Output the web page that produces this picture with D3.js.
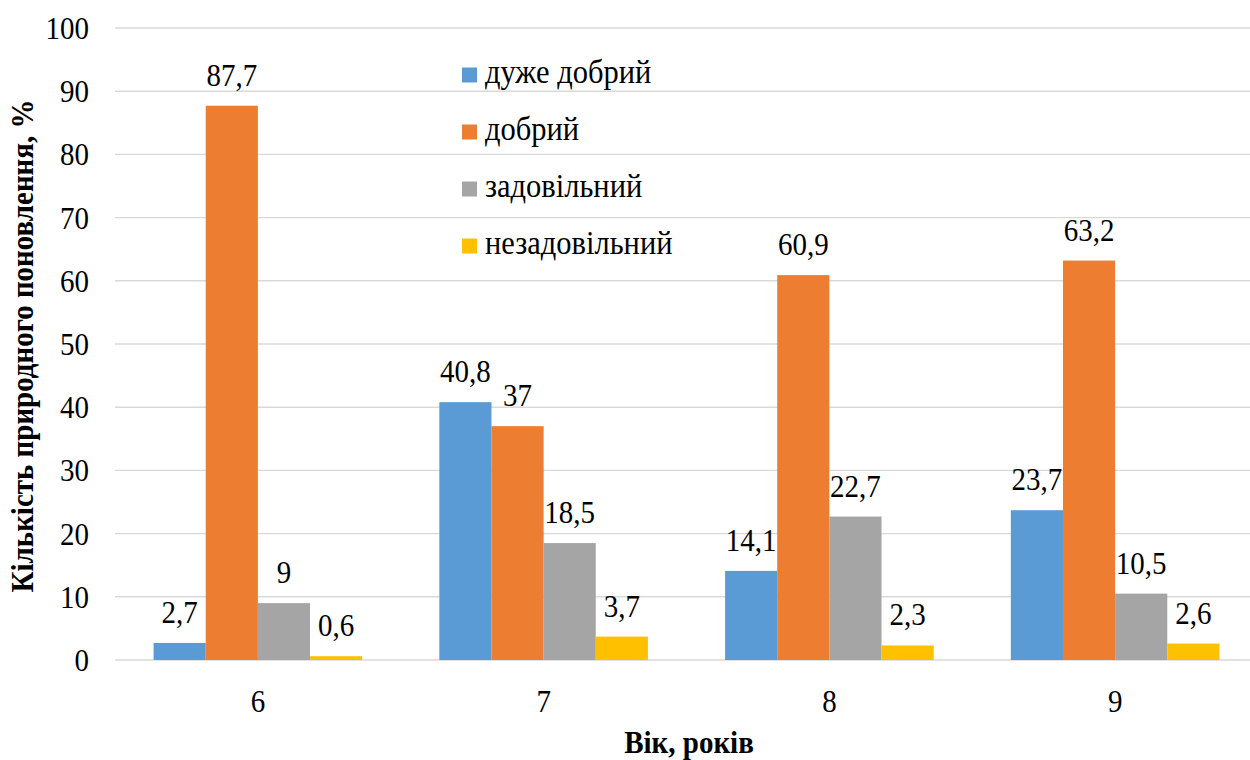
<!DOCTYPE html>
<html>
<head>
<meta charset="utf-8">
<script src="https://cdn.jsdelivr.net/npm/d3@7"></script>
</head>
<body style="margin:0">
<svg id="chart" width="1250" height="760" style="display:block"></svg>
<script>
// Age groups (years)
const categories = ["6", "7", "8", "9"];
// Condition classes of natural regeneration
const seriesNames = ["дуже добрий", "добрий", "задовільний", "незадовільний"];
const seriesColors = ["#5B9BD5", "#ED7D31", "#A5A5A5", "#FFC000"];
// Share of natural regeneration, %, per condition class for ages 6..9
const veryGood = [2.7, 40.8, 14.1, 23.7];
const good = [87.7, 37, 60.9, 63.2];
const satisfactory = [9, 18.5, 22.7, 10.5];
const unsatisfactory = [0.6, 3.7, 2.3, 2.6];
const yTicks = [0, 10, 20, 30, 40, 50, 60, 70, 80, 90, 100];

const seriesValues = [veryGood, good, satisfactory, unsatisfactory];

const FONT = '"Liberation Serif"';
const STRETCH = 1.12; // glyphs are drawn slightly taller than wide

const svg = d3.select("#chart")
  .attr("font-family", "Liberation Serif")
  .style("font-family", FONT, "important");

const plotLeft = 115, plotRight = 1258, plotTop = 28, plotBottom = 660;

const x0 = d3.scaleBand()
  .domain(categories)
  .range([plotLeft, plotRight])
  .paddingInner(0.27)
  .paddingOuter(0.135);

const x1 = d3.scaleBand()
  .domain(seriesNames)
  .range([0, x0.bandwidth()]);

const y = d3.scaleLinear().domain([0, 100]).range([plotBottom, plotTop]);

// Text helper: places text at (x, y) with the common font settings
function styleText(sel, size, xf, yf) {
  return sel
    .attr("x", 0)
    .attr("y", 0)
    .attr("transform", (d, i) => `translate(${xf(d, i)},${yf(d, i)}) scale(1,${STRETCH})`)
    .attr("font-size", size)
    .attr("fill", "#000")
    .attr("font-family", "Liberation Serif")
    .style("font-family", FONT, "important");
}

// Horizontal gridlines
svg.append("g")
  .selectAll("line")
  .data(yTicks)
  .join("line")
  .attr("x1", plotLeft)
  .attr("x2", 1250)
  .attr("y1", d => y(d))
  .attr("y2", d => y(d))
  .attr("stroke", "#d9d9d9")
  .attr("stroke-width", 1.4);

// Y tick labels
styleText(
  svg.append("g").selectAll("text").data(yTicks).join("text"),
  29, () => 89, d => y(d) + 11)
  .attr("text-anchor", "end")
  .text(d => d);

// Bars and value labels
const groups = svg.append("g")
  .selectAll("g")
  .data(categories)
  .join("g")
  .attr("transform", d => `translate(${x0(d)},0)`);

groups.each(function (cat, ci) {
  const g = d3.select(this);
  const rows = seriesNames.map((name, si) => ({ name, si, v: seriesValues[si][ci] }));
  g.selectAll("rect")
    .data(rows)
    .join("rect")
    .attr("x", d => x1(d.name))
    .attr("width", x1.bandwidth())
    .attr("y", d => y(d.v))
    .attr("height", d => y(0) - y(d.v))
    .attr("fill", d => seriesColors[d.si]);
  styleText(
    g.selectAll("text").data(rows).join("text"),
    29, d => x1(d.name) + x1.bandwidth() / 2, d => y(d.v) - 20)
    .attr("text-anchor", "middle")
    .text(d => String(d.v).replace(".", ","));
});

// X tick labels
styleText(
  svg.append("g").selectAll("text").data(categories).join("text"),
  29, d => x0(d) + x0.bandwidth() / 2, () => 712)
  .attr("text-anchor", "middle")
  .text(d => d);

// Legend
const legend = svg.append("g")
  .selectAll("g")
  .data(seriesNames)
  .join("g")
  .attr("transform", (d, i) => `translate(462,${75 + i * 57})`);
legend.append("rect")
  .attr("x", 0).attr("y", -7.5)
  .attr("width", 15).attr("height", 15)
  .attr("fill", (d, i) => seriesColors[i]);
styleText(legend.append("text"), 30.5, () => 23, () => 8)
  .text(d => d);

// Axis titles
styleText(svg.append("text"), 29, () => 689, () => 753)
  .attr("text-anchor", "middle")
  .attr("font-weight", "bold")
  .text("Вік, років");

styleText(svg.append("text"), 29, () => 33, () => 346)
  .attr("transform", `translate(33,346) rotate(-90) scale(1,${STRETCH})`)
  .attr("text-anchor", "middle")
  .attr("font-weight", "bold")
  .text("Кількість природного поновлення, %");
</script>
</body>
</html>
